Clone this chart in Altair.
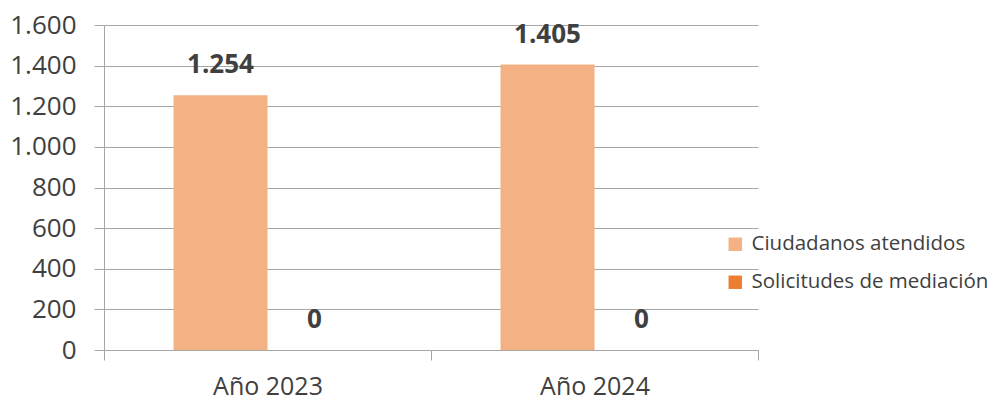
import altair as alt
import pandas as pd

years = ["Año 2023", "Año 2024"]
series = ["Ciudadanos atendidos", "Solicitudes de mediación"]
ciudadanos = [1254, 1405]
solicitudes = [0, 0]
colors = ["#F4B183", "#ED7D31"]
y_ticks = [0, 200, 400, 600, 800, 1000, 1200, 1400, 1600]

rows = []
for i, yr in enumerate(years):
    rows.append({"anio": yr, "serie": series[0], "valor": ciudadanos[i]})
    rows.append({"anio": yr, "serie": series[1], "valor": solicitudes[i]})
df = pd.DataFrame(rows)

FONT = "Open Sans"
TXT = "#404040"
GRID = "#A6A6A6"

base = alt.Chart(df).transform_calculate(
    label="replace(format(datum.valor, ','), ',', '.')"
).encode(
    x=alt.X(
        "anio:N",
        sort=years,
        scale=alt.Scale(paddingInner=0, paddingOuter=0),
        axis=alt.Axis(
            title=None, labelAngle=0, tickBand="extent", tickSize=10,
            labelPadding=14, domainColor=GRID, tickColor=GRID,
            labelFont=FONT, labelFontSize=25, labelColor=TXT, grid=False,
        ),
    ),
    xOffset=alt.XOffset(
        "serie:N", sort=series,
        scale=alt.Scale(paddingInner=0, paddingOuter=0.74),
    ),
    y=alt.Y(
        "valor:Q",
        scale=alt.Scale(domain=[0, 1600], nice=False),
        axis=alt.Axis(
            title=None, values=y_ticks,
            labelExpr="replace(format(datum.value, ','), ',', '.')",
            tickSize=10, labelPadding=18, domainColor=GRID, tickColor=GRID,
            gridColor=GRID, grid=True, labelFont=FONT, labelFontSize=26,
            labelColor=TXT,
        ),
    ),
)

bars = base.mark_bar().encode(
    color=alt.Color(
        "serie:N",
        scale=alt.Scale(domain=series, range=colors),
        legend=alt.Legend(
            title=None, orient="none", legendX=621, legendY=209,
            symbolType="square", symbolSize=180, symbolStrokeWidth=0,
            labelFont=FONT, labelFontSize=20.5, labelColor=TXT,
            labelLimit=400, rowPadding=17, labelOffset=6,
        ),
    )
)

text = base.mark_text(
    dy=-22, baseline="alphabetic", fontWeight="bold", font=FONT,
    fontSize=26, color=TXT,
).encode(text="label:N")

chart = alt.layer(bars, text).properties(
    width=654, height=325,
    padding={"left": 96, "top": 17, "right": 235, "bottom": 49},
    autosize=alt.AutoSizeParams(type="none"),
).configure_view(stroke=None)

chart.save("out.html", embed_options={"renderer": "svg", "actions": False})
